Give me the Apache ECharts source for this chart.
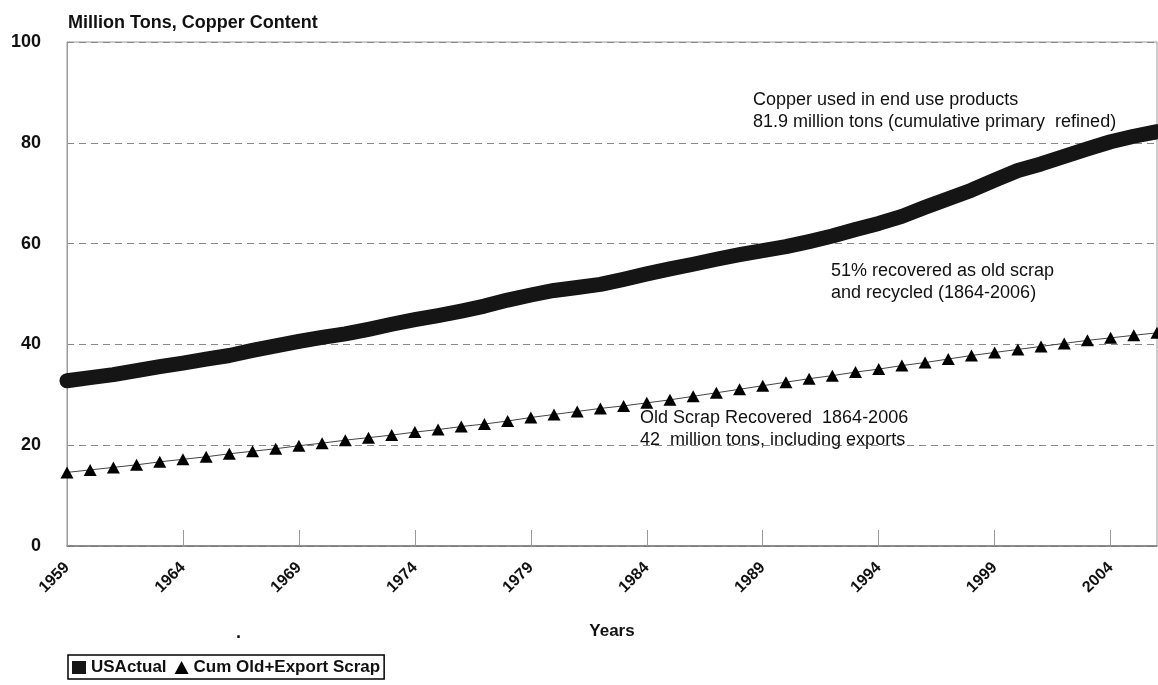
<!DOCTYPE html>
<html>
<head>
<meta charset="utf-8">
<script src="https://cdn.jsdelivr.net/npm/echarts@6/dist/echarts.min.js"></script>
<style>
html,body{margin:0;padding:0;background:#fff;}
#chart{width:1158px;height:685px;}
</style>
</head>
<body>
<div id="chart"></div>
<script>
var years = [];
for (var y = 1959; y <= 2006; y++) { years.push(String(y)); }

var usActual = [32.8, 33.4, 34.0, 34.8, 35.6, 36.3, 37.1, 37.8, 38.8, 39.7,
  40.6, 41.4, 42.1, 43.0, 44.0, 44.9, 45.7, 46.6, 47.6, 48.8,
  49.8, 50.7, 51.3, 51.9, 52.9, 54.0, 55.0, 55.9, 56.9, 57.8,
  58.6, 59.4, 60.4, 61.5, 62.8, 64.0, 65.4, 67.2, 68.9, 70.6,
  72.6, 74.5, 75.8, 77.3, 78.8, 80.2, 81.3, 82.2];

var cumScrap = [14.6, 15.1, 15.6, 16.1, 16.7, 17.2, 17.7, 18.3, 18.8, 19.3,
  19.9, 20.4, 21.0, 21.5, 22.0, 22.6, 23.1, 23.7, 24.2, 24.8,
  25.5, 26.1, 26.7, 27.3, 27.8, 28.4, 29.0, 29.7, 30.4, 31.1,
  31.8, 32.5, 33.2, 33.8, 34.5, 35.1, 35.8, 36.4, 37.1, 37.8,
  38.4, 39.0, 39.6, 40.2, 40.8, 41.3, 41.8, 42.3];

var seriesNames = ['USActual', 'Cum Old+Export Scrap'];
var yAxisTitle = 'Million Tons, Copper Content';
var xAxisTitle = 'Years';
var notes = [
  ['Copper used in end use products', '81.9 million tons (cumulative primary  refined)'],
  ['51% recovered as old scrap', 'and recycled (1864-2006)'],
  ['Old Scrap Recovered  1864-2006', '42  million tons, including exports']
];

var FONT = '"Liberation Sans", Arial, Helvetica, sans-serif';
var chart = echarts.init(document.getElementById('chart'), null, {renderer: 'canvas'});

function noteText(x, y, lines) {
  return {
    type: 'text', left: x, top: y, z: 10,
    style: { text: lines.join('\n'), font: '18px ' + FONT, fill: '#111', lineHeight: 22 }
  };
}

chart.setOption({
  backgroundColor: '#fff',
  animation: false,
  title: {
    text: yAxisTitle, left: 63, top: 9,
    textStyle: { fontFamily: FONT, fontWeight: 'bold', fontSize: 18, color: '#111' }
  },
  legend: {
    left: 68, top: 655,
    orient: 'horizontal',
    data: [{ name: seriesNames[0], icon: 'rect' }, { name: seriesNames[1], icon: 'triangle' }],
    itemWidth: 14, itemHeight: 13, itemGap: 8,
    padding: [4, 4, 3, 4],
    borderColor: '#000', borderWidth: 1.5,
    textStyle: { fontFamily: FONT, fontWeight: 'bold', fontSize: 17, color: '#111' }
  },
  grid: {
    left: 67, right: 1, top: 42, bottom: 139,
    show: true, borderColor: '#999', borderWidth: 1, backgroundColor: 'transparent'
  },
  xAxis: {
    type: 'category', data: years, boundaryGap: false,
    name: xAxisTitle, nameLocation: 'middle', nameGap: 77,
    nameTextStyle: { fontFamily: FONT, fontWeight: 'bold', fontSize: 17, color: '#111' },
    axisLine: { show: true, lineStyle: { color: '#777', width: 1.5 } },
    axisTick: { show: true, inside: true, length: 16, interval: 4, lineStyle: { color: '#999' } },
    axisLabel: {
      interval: 4, rotate: 45, margin: 19,
      fontFamily: FONT, fontWeight: 'bold', fontSize: 16, color: '#111'
    },
    splitLine: { show: false }
  },
  yAxis: {
    type: 'value', min: 0, max: 100, interval: 20,
    axisLine: { show: true, lineStyle: { color: '#999' } },
    axisTick: { show: false },
    axisLabel: { margin: 26, fontFamily: FONT, fontWeight: 'bold', fontSize: 18, color: '#111' },
    splitLine: { show: true, lineStyle: { color: '#888', type: [7, 5], width: 1 } }
  },
  series: [
    {
      name: seriesNames[0], type: 'line', data: usActual,
      symbol: 'none', clip: false, z: 3,
      itemStyle: { color: '#151515' },
      lineStyle: { color: '#151515', width: 15, cap: 'round', join: 'round' }
    },
    {
      name: seriesNames[1], type: 'line', data: cumScrap,
      symbol: 'triangle', symbolSize: [13, 12], clip: false, z: 4,
      itemStyle: { color: '#000' },
      lineStyle: { color: '#444', width: 1 }
    }
  ],
  graphic: [
    noteText(753, 89, notes[0]),
    noteText(831, 260, notes[1]),
    noteText(640, 407, notes[2]),
    { type: 'text', left: 236, top: 624, style: { text: '.', font: 'bold 18px ' + FONT, fill: '#111' } }
  ]
});
</script>
</body>
</html>
